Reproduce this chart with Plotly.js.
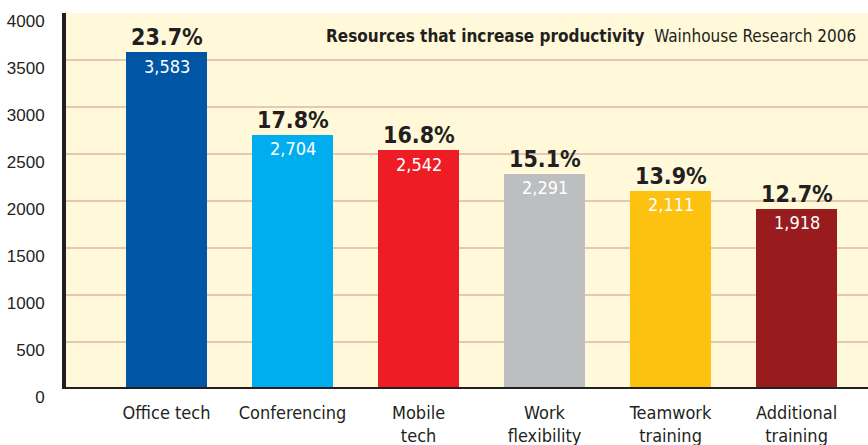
<!DOCTYPE html>
<html>
<head>
<meta charset="utf-8">
<script src="https://cdn.plot.ly/plotly-3.0.1.min.js"></script>
<style>html,body{margin:0;padding:0;background:#fff;}#chart{width:868px;height:445px;}</style>
</head>
<body>
<div id="chart"></div>
<script>
const categories = ["Office tech", "Conferencing", "Mobile<br>tech", "Work<br>flexibility", "Teamwork<br>training", "Additional<br>training"];
const values = [3583, 2704, 2542, 2291, 2111, 1918];
const valueLabels = ["3,583", "2,704", "2,542", "2,291", "2,111", "1,918"];
const percentLabels = ["23.7%", "17.8%", "16.8%", "15.1%", "13.9%", "12.7%"];
const barColors = ["#0055A5", "#00AEEF", "#EE1C25", "#BCBEC0", "#FDC20F", "#981B1E"];
const yTicks = [0, 500, 1000, 1500, 2000, 2500, 3000, 3500, 4000];

const idx = categories.map((c, i) => i);
const condensed = "DejaVu Sans Condensed, sans-serif";

const trace = {
  type: "bar",
  x: idx,
  y: values,
  width: 0.643,
  marker: { color: barColors, line: { width: 0 } },
  hoverinfo: "skip"
};

const annotations = [];
idx.forEach(i => {
  annotations.push({
    x: i, y: values[i], xref: "x", yref: "y",
    text: percentLabels[i], showarrow: false,
    yanchor: "bottom", yshift: 0,
    font: { family: condensed, size: 23, color: "#231F20", weight: 700 }
  });
  annotations.push({
    x: i, y: values[i], xref: "x", yref: "y",
    text: valueLabels[i], showarrow: false,
    yanchor: "middle", yshift: -14,
    font: { family: condensed, size: 18, color: "#FFFFFF" }
  });
});
annotations.push({
  xref: "paper", yref: "paper", x: 0.988, y: 0.938, xanchor: "right", yanchor: "middle",
  showarrow: false,
  text: "<b>Resources that increase productivity</b>  Wainhouse Research 2006",
  font: { family: condensed, size: 17, color: "#231F20" }
});

const layout = {
  width: 868, height: 445,
  margin: { l: 66, r: 0, t: 13, b: 56 },
  paper_bgcolor: "#FFFFFF",
  plot_bgcolor: "#FFF9D9",
  showlegend: false,
  bargap: 0,
  xaxis: {
    range: [-0.798, 5.567],
    tickmode: "array", tickvals: idx, ticktext: categories,
    showgrid: false, zeroline: false, ticks: "",
    showline: false, ticklabelstandoff: 11,
    tickfont: { family: condensed, size: 18, color: "#231F20" }
  },
  yaxis: {
    range: [0, 4000],
    tickmode: "array", tickvals: yTicks,
    showgrid: true, gridcolor: "#E5C7B2", gridwidth: 1.5,
    zeroline: false, ticks: "",
    ticklabelshift: 8, ticklabeloverflow: "allow",
    ticklabelstandoff: 14,
    showline: true, linecolor: "#231F20", linewidth: 4,
    tickfont: { family: "Liberation Sans, Arial, sans-serif", size: 17, color: "#231F20" }
  },
  shapes: [
    { type: "line", xref: "paper", yref: "y", x0: -0.005, x1: 1, y0: 0, y1: 0, line: { color: "#231F20", width: 4 } }
  ],
  annotations: annotations
};

Plotly.newPlot("chart", [trace], layout, { staticPlot: true, displayModeBar: false });
</script>
</body>
</html>
